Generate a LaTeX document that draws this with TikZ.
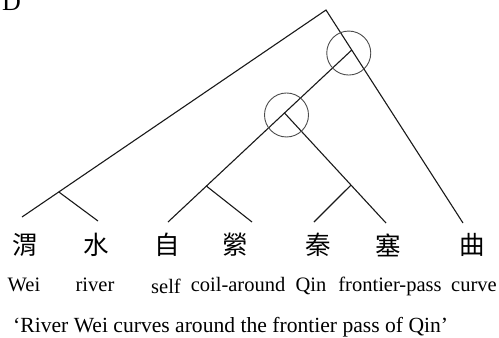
\documentclass[tikz,border=0pt]{standalone}
\usepackage{fontspec}
\setmainfont{Liberation Serif}
\newfontfamily\cjk{Noto Sans CJK TC}
\usetikzlibrary{calc}
\begin{document}
\begin{tikzpicture}[x=1pt,y=-1pt,
  branch/.style={line width=1.1pt,black!90},
  ring/.style={draw=black!70,line width=0.9pt,circle,minimum size=44pt,inner sep=0pt},
  hanzi/.style={font=\cjk\fontsize{25.5}{25.5}\selectfont,inner sep=0pt},
  gloss/.style={font=\fontsize{20.5}{20.5}\selectfont,inner sep=0pt,anchor=base},
  trans/.style={font=\fontsize{21.6}{21.6}\selectfont,inner sep=0pt,anchor=base west}]
\useasboundingbox (0,0) rectangle (499,338);
% leaves
\coordinate (top) at (326,10);
\coordinate (lWei) at (22,217);
\coordinate (lRiver) at (98,221);
\coordinate (lSelf) at (168,222);
\coordinate (lCoil) at (252,222);
\coordinate (lQin) at (314,222);
\coordinate (lPass) at (386,223);
\coordinate (lCurve) at (463,223);
% internal nodes
\coordinate (n1) at ($(top)!0.188!(lCurve)$);
\coordinate (n2) at ($(n1)!0.366!(lSelf)$);
\coordinate (wr) at ($(top)!0.879!(lWei)$);
\coordinate (ca) at ($(n1)!0.791!(lSelf)$);
\coordinate (qp) at ($(n2)!0.655!(lPass)$);
% branches
\draw[branch] (lWei) -- (top) -- (lCurve);
\draw[branch] (wr) -- (lRiver);
\draw[branch] (n1) -- (lSelf);
\draw[branch] (ca) -- (lCoil);
\draw[branch] (n2) -- (lPass);
\draw[branch] (qp) -- (lQin);
% circles
\node[ring] (c1) at ($(n1)+(-3,3)$) {};
\node[ring] (c2) at ($(n2)+(2,2)$) {};
% label
\node[font=\fontsize{26}{26}\selectfont,inner sep=0pt,anchor=base west] (lab) at (2,10) {D};
% characters
\node[hanzi] (h1) at (25,245) {渭};
\node[hanzi] (h2) at (96,245) {水};
\node[hanzi] (h3) at (167,245) {自};
\node[hanzi] (h4) at (235,245) {縈};
\node[hanzi] (h5) at (318,245) {秦};
\node[hanzi] (h6) at (388,245) {塞};
\node[hanzi] (h7) at (472,245) {曲};
% glosses
\node[gloss] (g1) at (24,291) {Wei};
\node[gloss] (g2) at (95,291) {river};
\node[gloss] (g3) at (166,293) {self};
\node[gloss] (g4) at (238,291) {coil-around};
\node[gloss] (g5) at (311,291) {Qin};
\node[gloss] (g6) at (390,291) {frontier-pass};
\node[gloss] (g7) at (474,291) {curve};
% translation
\node[trans] (tr) at (13,332) {‘River Wei curves around the frontier pass of Qin’};
\end{tikzpicture}
\end{document}
